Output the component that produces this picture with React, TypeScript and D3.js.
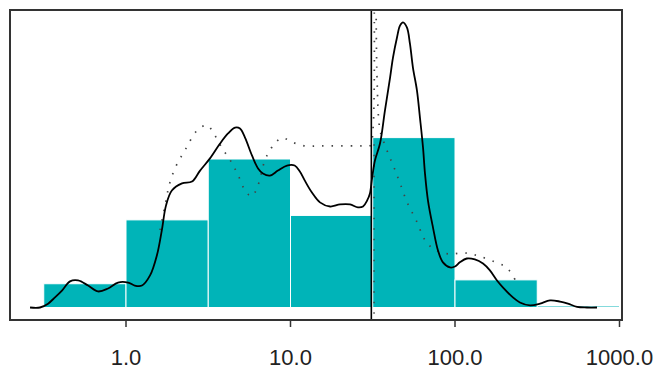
import * as d3 from "d3";

// histogram bins (log-spaced) and their heights
const binEdges = [0.3162, 1, 3.162, 10, 31.62, 100, 316.2, 1000];
const binHeights = [0.08, 0.295, 0.5, 0.31, 0.572, 0.093, 0.005];

// solid density curve
const densX = [
  0.261, 0.3, 0.336, 0.37, 0.408, 0.457, 0.511, 0.588, 0.676, 0.778, 0.894, 1.03, 1.13, 1.25, 1.4,
  1.54, 1.65, 1.75, 1.9, 2.19, 2.52, 2.82, 3.24, 3.73, 4.17, 4.6, 4.93, 5.29, 5.83, 6.35, 6.8, 7.5,
  8.39, 9.52, 10.6, 11.4, 12.2, 13.5, 15.1, 17.4, 20.0, 23.0, 25.7, 27.6, 29.2, 30.4, 31.3, 32.6,
  35.0, 37.5, 40.3, 42.0, 44.4, 46.3, 48.3, 51.0, 53.2, 55.5, 58.7, 61.2, 63.9, 65.7, 68.5, 73.5,
  78.8, 84.5, 93.3, 100, 107, 118, 132, 148, 163, 180, 196, 225, 248, 286, 329, 378, 435, 486, 552,
  634, 730,
];
const densY = [
  0.0, 0.0, 0.013, 0.034, 0.057, 0.088, 0.091, 0.074, 0.054, 0.064, 0.084, 0.084, 0.074, 0.074,
  0.108, 0.175, 0.259, 0.343, 0.394, 0.418, 0.424, 0.461, 0.502, 0.552, 0.586, 0.606, 0.603, 0.572,
  0.512, 0.468, 0.451, 0.444, 0.461, 0.478, 0.478, 0.458, 0.428, 0.387, 0.354, 0.34, 0.347, 0.347,
  0.337, 0.34, 0.36, 0.384, 0.434, 0.495, 0.552, 0.663, 0.774, 0.842, 0.909, 0.949, 0.96, 0.943,
  0.889, 0.808, 0.731, 0.64, 0.539, 0.451, 0.36, 0.269, 0.192, 0.152, 0.135, 0.138, 0.152, 0.165,
  0.162, 0.148, 0.125, 0.091, 0.067, 0.034, 0.017, 0.007, 0.013, 0.024, 0.02, 0.013, 0.002, 0.0,
  0.0,
];

// dotted curve, left and right of the cutoff
const dotLeftX = [
  1.61, 1.73, 1.83, 1.99, 2.19, 2.38, 2.59, 2.82, 3.11, 3.43, 3.83, 4.29, 4.8, 5.36, 5.83, 6.35,
  7.0, 7.72, 8.88, 10.2, 12.2, 15.1, 20.0, 26.5, 30.4, 31.7, 32.2,
];
const dotLeftY = [
  0.261, 0.345, 0.412, 0.47, 0.513, 0.547, 0.584, 0.604, 0.614, 0.584, 0.537, 0.497, 0.446, 0.389,
  0.375, 0.412, 0.497, 0.54, 0.571, 0.557, 0.544, 0.544, 0.544, 0.544, 0.544, 0.598, 1.1,
];
const dotRightX = [
  33.1, 33.6, 35.0, 37.5, 40.3, 43.2, 46.3, 51.1, 58.7, 65.7, 75.6, 93.2, 112, 132, 163, 207, 232,
];
const dotRightY = [
  1.1, 0.766, 0.598, 0.547, 0.503, 0.463, 0.419, 0.355, 0.288, 0.227, 0.194, 0.18, 0.184, 0.177,
  0.16, 0.133, 0.093,
];

const cutoffSolid = 31.0;
const cutoffDotted = 32.2;

const tickValues = [1, 10, 100, 1000];
const tickLabels = ["1.0", "10.0", "100.0", "1000.0"];

const W = 658, H = 371;
const L = 10, R = 622, T = 10, B = 320;
const BAR = "#00b4b8";

export default function App() {
  const x = d3.scaleLog().domain([1, 1000]).range([126, 619.5]);
  const y = d3.scaleLinear().domain([0, 1]).range([307.5, 10.5]);

  const line = d3
    .line<[number, number]>()
    .x((d) => x(d[0]))
    .y((d) => y(d[1]))
    .curve(d3.curveCatmullRom);

  const dens = densX.map((v, i) => [v, densY[i]] as [number, number]);
  const dotL = dotLeftX.map((v, i) => [v, dotLeftY[i]] as [number, number]);
  const dotR = dotRightX.map((v, i) => [v, dotRightY[i]] as [number, number]);

  return (
    <svg
      width={W}
      height={H}
      style={{ position: "absolute", left: 0, top: 0, background: "#fff" }}
      fontFamily="'Liberation Sans', Arial, sans-serif"
    >
      <defs>
        <clipPath id="plotClip">
          <rect x={L} y={T} width={R - L} height={B - T} />
        </clipPath>
      </defs>

      {/* bars */}
      <g>
        {binHeights.map((h, i) => (
          <rect
            key={i}
            x={x(binEdges[i])}
            y={y(h)}
            width={x(binEdges[i + 1]) - x(binEdges[i])}
            height={y(0) - y(h)}
            fill={BAR}
            stroke="#ffffff"
            strokeWidth={1}
          />
        ))}
      </g>

      <g clipPath="url(#plotClip)">
        {/* dotted curve */}
        <path d={line(dotL) ?? ""} fill="none" stroke="#444" strokeWidth={1.7} strokeDasharray="1.5 8" />
        <path d={line(dotR) ?? ""} fill="none" stroke="#444" strokeWidth={1.7} strokeDasharray="1.5 8" />
        <line
          x1={x(cutoffDotted)}
          x2={x(cutoffDotted)}
          y1={y(0.55)}
          y2={B - 6}
          stroke="#444"
          strokeWidth={1.4}
          strokeDasharray="1.5 9"
        />
        {/* density */}
        <path d={line(dens) ?? ""} fill="none" stroke="#000" strokeWidth={1.8} />
      </g>

      {/* cutoff line */}
      <line x1={x(cutoffSolid)} x2={x(cutoffSolid)} y1={T} y2={B} stroke="#000" strokeWidth={1.6} />

      {/* frame */}
      <rect x={L} y={T} width={R - L} height={B - T} fill="none" stroke="#333" strokeWidth={2} />

      {/* x axis ticks */}
      {tickValues.map((v, i) => (
        <g key={v} transform={`translate(${x(v)},0)`}>
          <line y1={B} y2={B + 7} stroke="#333" strokeWidth={1.5} />
          <text y={365} textAnchor="middle" fontSize={22} fill="#222">
            {tickLabels[i]}
          </text>
        </g>
      ))}
    </svg>
  );
}
